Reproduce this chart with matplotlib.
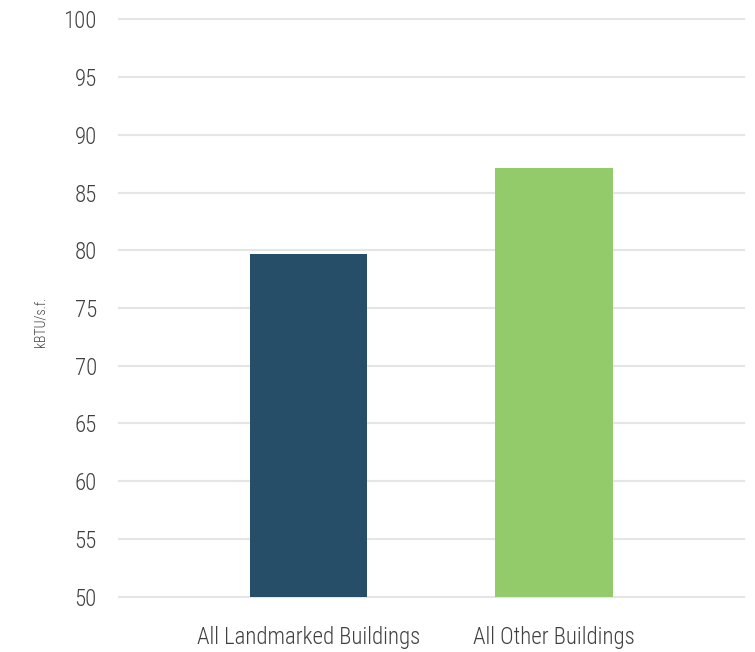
import matplotlib
matplotlib.use('Agg')
import matplotlib.pyplot as plt

categories = ['All Landmarked Buildings', 'All Other Buildings']
values = [79.65, 87.15]
colors = ['#274e69', '#93ca6a']
yticks = [50, 55, 60, 65, 70, 75, 80, 85, 90, 95, 100]

plt.rcParams['font.family'] = ['Roboto Condensed', 'Fira Sans Condensed',
                               'Open Sans Condensed', 'DejaVu Sans']
plt.rcParams['font.weight'] = 'light'

fig = plt.figure(figsize=(7.55, 6.52), dpi=100)
ax = fig.add_axes([0.1576, 0.0848, 0.8278, 0.8856])

x = list(range(len(categories)))
ax.bar(x, [v - 50 for v in values], bottom=50, width=0.478, color=colors, zorder=3)

ax.set_ylim(50, 100)
ax.set_xlim(-0.772, 1.773)
ax.set_yticks(yticks)
ax.set_yticklabels([str(t) for t in yticks], fontsize=16.5, color='#404040')
ax.set_xticks(x)
ax.set_xticklabels(categories, fontsize=16.5, color='#404040')
ax.tick_params(axis='y', length=0, pad=16)
ax.tick_params(axis='x', length=0, pad=21)
ax.grid(axis='y', color='#e4e6e6', linewidth=1.5, zorder=0)
for gl in ax.get_ygridlines():
    gl.set_clip_on(False)
for s in ax.spines.values():
    s.set_visible(False)

fig.text(0.053, 0.506, 'kBTU/s.f.', rotation=90, fontsize=10, color='#404040',
         ha='center', va='center')

fig.savefig('out.png', dpi=100, facecolor='white')
